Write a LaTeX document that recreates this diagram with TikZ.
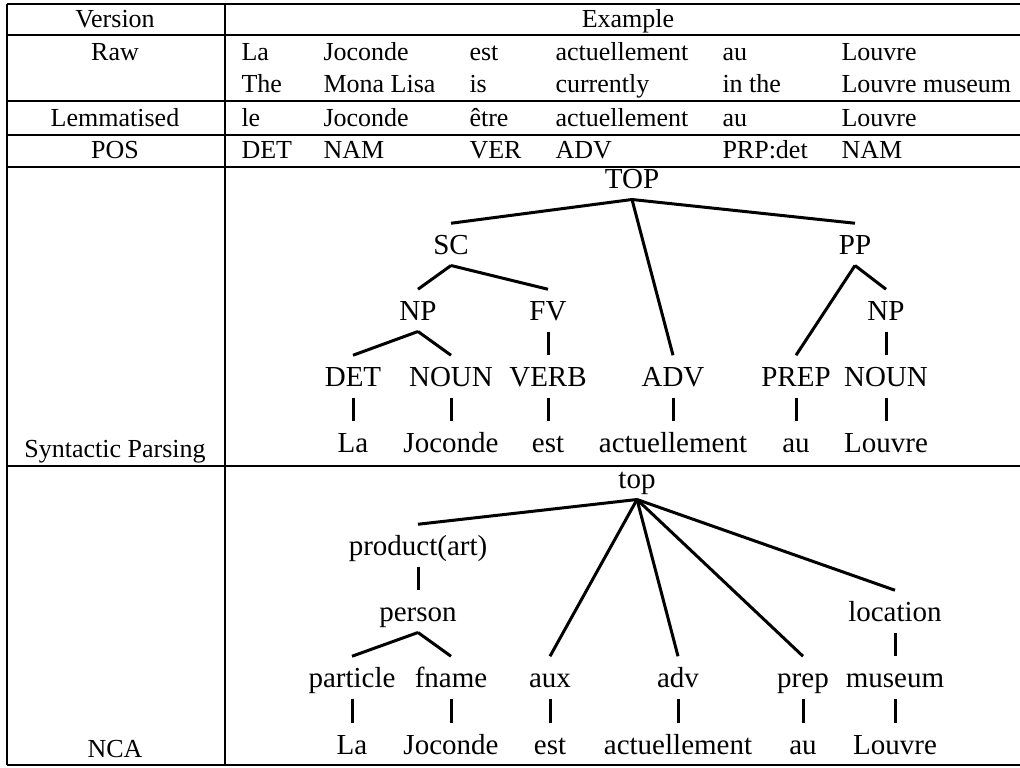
\documentclass[tikz,border=0pt]{standalone}
\usepackage{fontspec}
\setmainfont{Liberation Serif}

\begin{document}
\begin{tikzpicture}[x=0.4pt, y=-0.4pt,
        rule/.style={line width=0.8pt},
        head/.style={font=\fontsize{10.4}{12}\selectfont, inner sep=0pt, anchor=base},
        cell/.style={font=\fontsize{10.4}{12}\selectfont, inner sep=0pt, anchor=base west},
        tnode/.style={font=\fontsize{11.6}{14}\selectfont, text height=7.7pt, text depth=0pt,
            inner xsep=0pt, inner ysep=4.4pt, anchor=base},
        branch/.style={line width=1.2pt}]
        \useasboundingbox (0,0) rectangle (1020,767);
        % table frame
        \foreach \y in {4,35,101,135,167,466,765} \draw[rule] (7,\y) -- (1020,\y);
        \draw[rule] (7,4) -- (7,765);
        \draw[rule] (225,4) -- (225,765);
        % first column
        \node[head] (ver) at (115,27)  {Version};
        \node[head] (ex)  at (628,27)  {Example};
        \node[head] (raw) at (115,60)  {Raw};
        \node[head] (lem) at (115,126) {Lemmatised};
        \node[head] (pos) at (115,158) {POS};
        \node[head] (syn) at (115,457) {Syntactic Parsing};
        \node[head] (nca) at (115,757) {NCA};
        % word rows
        \foreach \w/\x [count=\i] in {La/241, Joconde/323, est/469, actuellement/555, au/722, Louvre/841}
            \node[cell] (r\i) at (\x,60) {\w};
        \foreach \w/\x [count=\i] in {The/241, Mona Lisa/323, is/469, currently/555, in the/722, Louvre museum/841}
            \node[cell] (t\i) at (\x,92) {\w};
        \foreach \w/\x [count=\i] in {le/241, Joconde/323, être/469, actuellement/555, au/722, Louvre/841}
            \node[cell] (l\i) at (\x,126) {\w};
        \foreach \w/\x [count=\i] in {DET/241, NAM/323, VER/469, ADV/555, PRP:det/722, NAM/841}
            \node[cell] (p\i) at (\x,158) {\w};
        % syntactic tree
        \node[tnode] (sTop)  at (632,188) {TOP};
        \node[tnode] (sSC)   at (451,254) {SC};
        \node[tnode] (sPP)   at (855,254) {PP};
        \node[tnode] (sNP)   at (418,320) {NP};
        \node[tnode] (sFV)   at (548,320) {FV};
        \node[tnode] (sNPb)  at (886,320) {NP};
        \node[tnode] (sDet)  at (353,386) {DET};
        \node[tnode] (sNoun) at (451,386) {NOUN};
        \node[tnode] (sVerb) at (548,386) {VERB};
        \node[tnode] (sAdv)  at (673,386) {ADV};
        \node[tnode] (sPrep) at (796,386) {PREP};
        \node[tnode] (sNounb) at (886,386) {NOUN};
        \foreach \w/\x [count=\i] in {La/353, Joconde/451, est/548, actuellement/673, au/796, Louvre/886}
            \node[tnode] (sw\i) at (\x,452) {\w};
        \foreach \a/\b in {sTop/sSC, sTop/sAdv, sTop/sPP, sSC/sNP, sSC/sFV, sNP/sDet, sNP/sNoun,
                sFV/sVerb, sPP/sPrep, sPP/sNPb, sNPb/sNounb, sDet/sw1, sNoun/sw2, sVerb/sw3,
                sAdv/sw4, sPrep/sw5, sNounb/sw6}
            \draw[branch] (\a.south) -- (\b.north);
        % NCA tree
        \node[tnode] (nTop)  at (637,488) {top};
        \node[tnode] (nProd) at (418,555) {product(art)};
        \node[tnode] (nPers) at (418,621) {person};
        \node[tnode] (nLoc)  at (895,621) {location};
        \node[tnode] (nPart) at (352,687) {particle};
        \node[tnode] (nFn)   at (451,687) {fname};
        \node[tnode] (nAux)  at (550,687) {aux};
        \node[tnode] (nAdv)  at (678,687) {adv};
        \node[tnode] (nPrep) at (803,687) {prep};
        \node[tnode] (nMus)  at (895,687) {museum};
        \foreach \w/\x [count=\i] in {La/352, Joconde/451, est/550, actuellement/678, au/803, Louvre/895}
            \node[tnode] (nw\i) at (\x,754) {\w};
        \foreach \a/\b in {nTop/nProd, nTop/nAux, nTop/nAdv, nTop/nPrep, nTop/nLoc, nProd/nPers,
                nPers/nPart, nPers/nFn, nLoc/nMus, nPart/nw1, nFn/nw2, nAux/nw3, nAdv/nw4,
                nPrep/nw5, nMus/nw6}
            \draw[branch] (\a.south) -- (\b.north);
    \end{tikzpicture}
\end{document}
